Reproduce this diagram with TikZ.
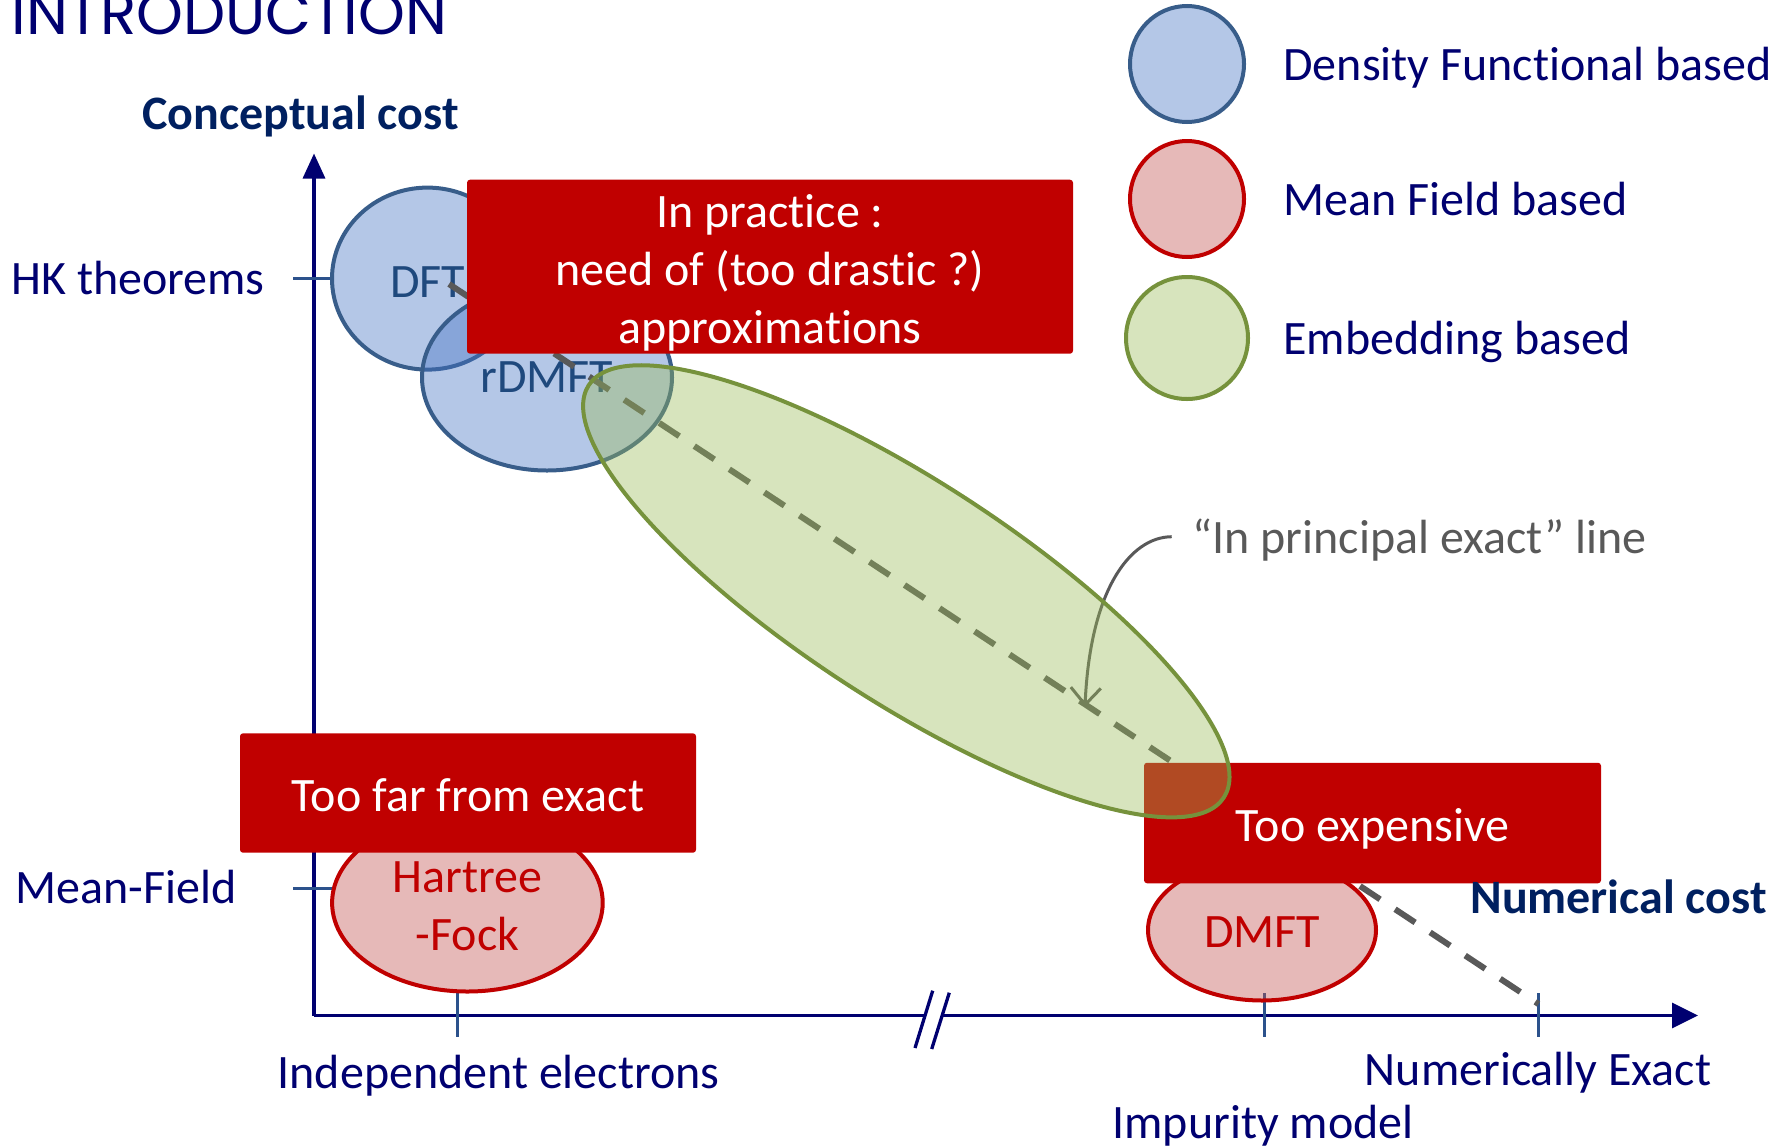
\documentclass[tikz,border=0pt]{standalone}
\usepackage{fontspec}
\setmainfont{Carlito}[Ligatures=NoCommon]
\newfontfamily\headfont{Poppins}
\usetikzlibrary{arrows.meta,shapes.geometric}

\definecolor{navyink}{RGB}{0,0,112}
\definecolor{darknavy}{RGB}{0,32,96}
\definecolor{tickblue}{RGB}{44,82,140}
\definecolor{dfline}{RGB}{56,93,138}
\definecolor{dffill}{RGB}{68,114,196}
\definecolor{dftext}{RGB}{31,73,125}
\definecolor{mfred}{RGB}{192,0,0}
\definecolor{mffill}{RGB}{192,80,77}
\definecolor{embline}{RGB}{118,146,60}
\definecolor{embfill}{RGB}{155,187,89}
\definecolor{exactgray}{RGB}{89,89,89}

\begin{document}
\begin{tikzpicture}[x=0.5pt,y=-0.5pt,
  font=\fontsize{24}{29}\selectfont,
  dfblob/.style={ellipse, draw=dfline, line width=2pt, fill=dffill,
    fill opacity=0.4, inner sep=0pt},
  mfblob/.style={ellipse, draw=mfred, line width=2pt, fill=mffill,
    fill opacity=0.4, inner sep=0pt},
  embblob/.style={ellipse, draw=embline, line width=2pt, fill=embfill,
    fill opacity=0.4, inner sep=0pt},
  warnbox/.style={rectangle, fill=mfred, rounded corners=1.5pt, inner sep=0pt},
  warntext/.style={text=white, align=center, inner sep=0pt},
  dftname/.style={text=dftext, inner sep=0pt},
  mfname/.style={text=mfred, align=center, inner sep=0pt},
  navylabel/.style={text=navyink, inner sep=0pt},
  costlabel/.style={text=darknavy, inner sep=0pt,
    font=\fontsize{24}{29}\selectfont\bfseries},
  axisline/.style={draw=navyink, line width=1.65pt},
  tickmark/.style={draw=tickblue, line width=1.5pt},
  exactline/.style={draw=exactgray, line width=3pt,
    dash pattern=on 12pt off 9pt}
]
\useasboundingbox (0,0) rectangle (1783,1146);

% title
\node[anchor=base west, text=navyink, inner sep=0pt] (title) at (11,34)
  {\headfont\fontsize{29.8}{31}\selectfont INTRODUCTION};

% axes
\coordinate (origin) at (314,1015.5);
\coordinate (ytop) at (314,153.5);
\coordinate (breakL) at (925,1015.5);
\coordinate (breakR) at (942,1015.5);
\coordinate (xend) at (1698,1015.5);
\draw[axisline, -{Triangle[length=12.5pt,width=11pt]}] (origin) -- (ytop);
\draw[axisline] (origin) -- (breakL);
\draw[axisline, -{Triangle[length=13pt,width=12.5pt]}] (breakR) -- (xend);
\draw[axisline] (915,1048) -- (932.7,990.7);
\draw[axisline] (931.7,1049) -- (949.3,992.7);

% ticks
\draw[tickmark] (293,278.6) -- (332,278.6);
\draw[tickmark] (293,888) -- (332,888);
\draw[tickmark] (457,993) -- (457,1037);
\draw[tickmark] (1264.5,993) -- (1264.5,1037);
\draw[tickmark] (1538.5,993) -- (1538.5,1037);

% mean-field methods
\node[mfblob, minimum width=135.3pt, minimum height=88.7pt] (hf) at (467.4,902.8) {};
\node[mfname] (hflbl) at (467.4,905.8) {Hartree\\-Fock};
\node[mfblob, minimum width=114pt, minimum height=70.5pt] (dmft) at (1262,930) {};
\node[mfname] (dmftlbl) at (1262,932.3) {DMFT};

% density functional methods
\node[dfblob, minimum width=95.5pt, minimum height=91pt] (dft) at (427.5,278.6) {};
\node[dfblob, minimum width=125pt, minimum height=93pt] (rdmft) at (547,377.5) {};
\node[dftname] (dftlbl) at (427.5,282) {DFT};
\node[dftname] (rdmftlbl) at (547,377.5) {rDMFT};

% "in principle exact" line
\coordinate (lineA) at (449,284);
\coordinate (lineB) at (1538.5,1004);
\draw[exactline] (lineA) -- (lineB);

% warning boxes
\node[warnbox, minimum width=303pt, minimum height=87pt] (practice) at (770,266.7) {};
\node[warntext] (practicetext) at (770,272.4)
  {In practice :\\need of (too drastic ?)\\approximations};
\node[warnbox, minimum width=228pt, minimum height=59.7pt] (toofar) at (468,793) {};
\node[warntext] (toofartext) at (468,795.3) {Too far from exact};
\node[warnbox, minimum width=228.5pt, minimum height=60.25pt] (expensive) at (1372.5,823) {};
\node[warntext] (expensivetext) at (1372.5,828.7) {Too expensive};

% callout pointing at the exact line
\node[anchor=base west, text=exactgray, inner sep=0pt] (calloutlbl) at (1192,553)
  {“In principal exact” line};
\coordinate (calloutstart) at (1171.7,536.7);
\coordinate (calloutend) at (1085,707);
\draw[draw=exactgray, line width=1.5pt, -{Straight Barb[length=8.5pt,width=15pt]}]
  (calloutstart) .. controls (1130,537) and (1090,590) .. (calloutend);

% embedding methods
\node[embblob, minimum width=378.6pt, minimum height=110.3pt, rotate=-33] (embed) at (906.3,591.3) {};

% legend
\node[dfblob, minimum width=57pt, minimum height=58pt] (keydf) at (1187,64) {};
\node[mfblob, minimum width=57pt, minimum height=58pt] (keymf) at (1187,199) {};
\node[embblob, minimum width=61pt, minimum height=61pt] (keyemb) at (1187,338) {};
\node[navylabel, anchor=base west] (keydftext) at (1283,80) {Density Functional based};
\node[navylabel, anchor=base west] (keymftext) at (1283,215) {Mean Field based};
\node[navylabel, anchor=base west] (keyembtext) at (1283,354) {Embedding based};

% axis labels
\node[costlabel, anchor=base] (ycost) at (300.5,129) {Conceptual cost};
\node[navylabel, anchor=base west] (hk) at (11,294) {HK theorems};
\node[navylabel, anchor=base west] (mf) at (15,903) {Mean-Field};
\node[navylabel, anchor=base] (indep) at (498.6,1088.5) {Independent electrons};
\node[navylabel, anchor=base] (impurity) at (1263,1138.5) {Impurity model};
\node[navylabel, anchor=base] (numexact) at (1538,1085) {Numerically Exact};
\node[costlabel, anchor=base] (xcost) at (1618.6,913) {Numerical cost};
\end{tikzpicture}
\end{document}
